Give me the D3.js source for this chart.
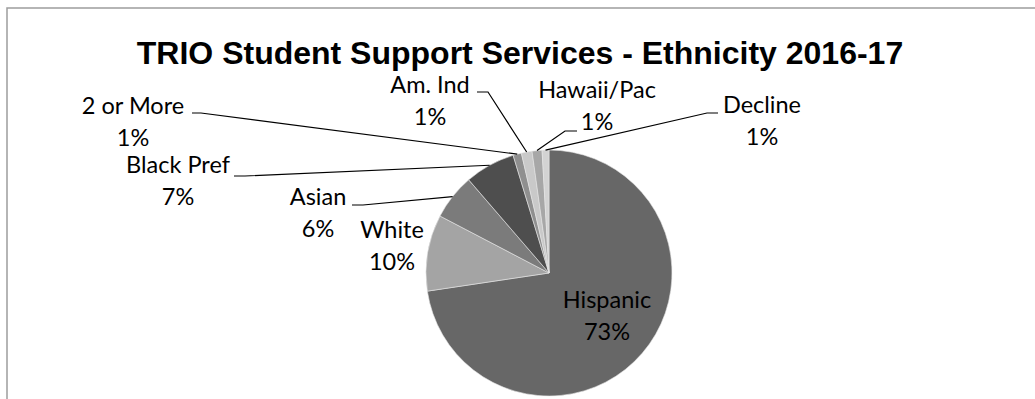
<!DOCTYPE html>
<html>
<head>
<meta charset="utf-8">
<script src="https://cdn.jsdelivr.net/npm/d3@7"></script>
<style>
  body { margin: 0; background: #fff; }
  svg { display: block; }
</style>
</head>
<body>
<svg width="1035" height="399"></svg>
<script>
// Chart data (percent of students)
var categories = ["Hispanic", "White", "Asian", "Black Pref", "2 or More", "Am. Ind", "Hawaii/Pac", "Decline"];
var shares = [72.5, 10.0, 6.0, 6.6, 1.1, 1.4, 1.3, 0.9];
var titleText = "TRIO Student Support Services - Ethnicity 2016-17";

// Styles
var sliceColors = ["#676767", "#a4a4a4", "#7b7b7b", "#4e4e4e", "#8f8f8f", "#c9c9c9", "#a7a7a7", "#d3d3d3"];

// Label layout: text centre + first baseline, optional leader stub (x1 -> x2 at y)
var labelLayout = [
    { x: 607, y: 308 },
    { x: 392, y: 238 },
    { x: 318, y: 205, stub: [352, 363, 205] },
    { x: 178, y: 173, stub: [234, 245, 176] },
    { x: 133, y: 114, stub: [192, 201, 113] },
    { x: 430, y: 93, stub: [477, 488, 92] },
    { x: 597, y: 98, stub: [577, 565, 131] },
    { x: 762, y: 113, stub: [718, 707, 113] }
];

var cx = 549, cy = 273, radius = 123;

var svg = d3.select("svg");

// chart frame
svg.append("rect")
    .attr("x", 7)
    .attr("y", 8)
    .attr("width", 1100)
    .attr("height", 500)
    .attr("fill", "none")
    .attr("stroke", "#9d9d9d")
    .attr("stroke-width", 1.5);

// title
svg.append("text")
    .attr("x", 520)
    .attr("y", 64)
    .attr("text-anchor", "middle")
    .attr("font-family", "'Liberation Sans', Arial, sans-serif")
    .attr("font-weight", "bold")
    .attr("font-size", "32px")
    .attr("fill", "#000")
    .text(titleText);

var data = categories.map(function(c, i) { return { name: c, value: shares[i], i: i }; });
var total = d3.sum(shares);

var pie = d3.pie()
    .sort(null)
    .value(function(d) { return d.value; });

var arc = d3.arc()
    .innerRadius(0)
    .outerRadius(radius);

var arcs = pie(data);

var g = svg.append("g")
    .attr("transform", "translate(" + cx + "," + cy + ")");

g.selectAll("path.slice")
    .data(arcs)
    .enter().append("path")
    .attr("class", "slice")
    .attr("d", arc)
    .attr("fill", function(d) { return sliceColors[d.data.i]; })
    .attr("stroke", "#e6e6e6")
    .attr("stroke-width", 0.6);

// leader lines: stub next to label, then to the outer edge at the slice's mid angle
arcs.forEach(function(a) {
    var lay = labelLayout[a.data.i];
    if (!lay.stub) return;
    var mid = (a.startAngle + a.endAngle) / 2;
    var px = cx + Math.sin(mid) * radius;
    var py = cy - Math.cos(mid) * radius;
    var s = lay.stub;
    svg.append("polyline")
        .attr("points", [[s[0], s[2]], [s[1], s[2]], [px, py]].map(function(p) { return p.join(","); }).join(" "))
        .attr("fill", "none")
        .attr("stroke", "#000")
        .attr("stroke-width", 1.2);
});

// labels
var labels = svg.selectAll("text.lbl")
    .data(arcs)
    .enter().append("text")
    .attr("class", "lbl")
    .attr("text-anchor", "middle")
    .attr("font-family", "Lato, 'Open Sans', sans-serif")
    .attr("font-size", "23.5px")
    .attr("fill", "#000");

labels.append("tspan")
    .attr("x", function(d) { return labelLayout[d.data.i].x; })
    .attr("y", function(d) { return labelLayout[d.data.i].y; })
    .text(function(d) { return d.data.name; });

labels.append("tspan")
    .attr("x", function(d) { return labelLayout[d.data.i].x; })
    .attr("y", function(d) { return labelLayout[d.data.i].y + 32; })
    .text(function(d) { return Math.round(d.data.value / total * 100) + "%"; });
</script>
</body>
</html>
